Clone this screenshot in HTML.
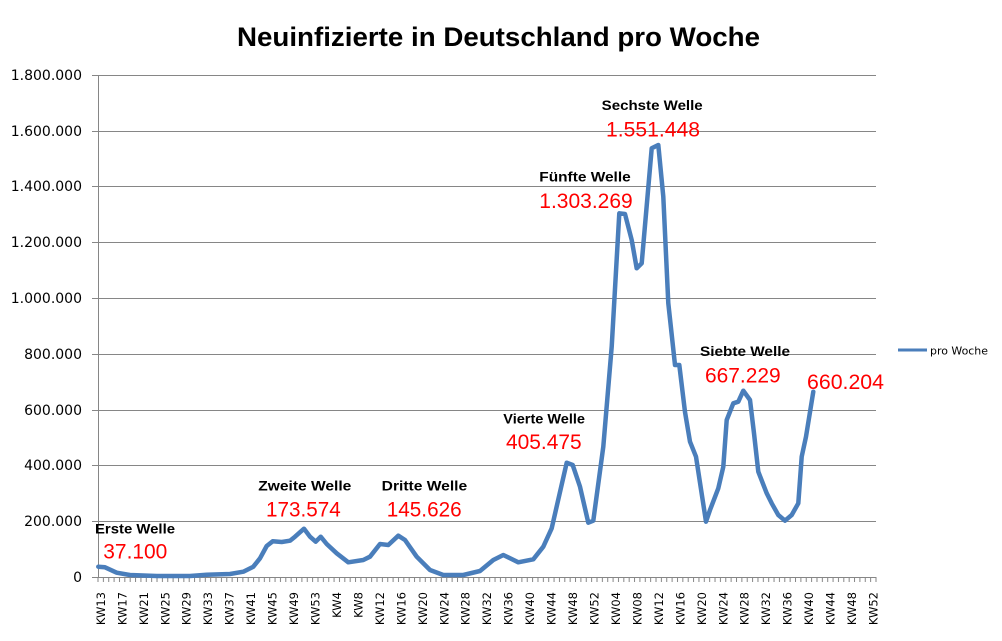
<!DOCTYPE html>
<html>
<head>
<meta charset="utf-8">
<style>
html,body{margin:0;padding:0;background:#fff;}
svg{display:block;}
</style>
</head>
<body>
<svg width="1002" height="641" viewBox="0 0 1002 641" xmlns="http://www.w3.org/2000/svg">
<defs>
<pattern id="tk" patternUnits="userSpaceOnUse" x="97.5" y="577" width="5.36552" height="6">
<rect x="0" y="0" width="1" height="6" fill="#868686"/>
</pattern>
</defs>
<rect width="1002" height="641" fill="#fff"/>
<!-- title -->
<text x="237" y="46" font-family="Liberation Sans, sans-serif" font-weight="bold" font-size="27" textLength="523" lengthAdjust="spacingAndGlyphs" fill="#000">Neuinfizierte in Deutschland pro Woche</text>

<!-- gridlines -->
<g stroke="#868686" stroke-width="1" shape-rendering="crispEdges">
<line x1="92" y1="75.5" x2="876" y2="75.5"/>
<line x1="92" y1="131.5" x2="876" y2="131.5"/>
<line x1="92" y1="186.5" x2="876" y2="186.5"/>
<line x1="92" y1="242.5" x2="876" y2="242.5"/>
<line x1="92" y1="298.5" x2="876" y2="298.5"/>
<line x1="92" y1="354.5" x2="876" y2="354.5"/>
<line x1="92" y1="410.5" x2="876" y2="410.5"/>
<line x1="92" y1="465.5" x2="876" y2="465.5"/>
<line x1="92" y1="521.5" x2="876" y2="521.5"/>
<line x1="92" y1="577.5" x2="876" y2="577.5"/>
<line x1="98.5" y1="75" x2="98.5" y2="578"/>
</g>

<!-- x ticks -->
<rect x="97.5" y="577" width="780" height="5" fill="url(#tk)"/>

<!-- y labels -->
<g font-family="DejaVu Sans, sans-serif" font-size="14" fill="#000" text-anchor="end">
<text x="82" y="80">1.800.000</text>
<text x="82" y="136">1.600.000</text>
<text x="82" y="191">1.400.000</text>
<text x="82" y="247">1.200.000</text>
<text x="82" y="303">1.000.000</text>
<text x="82" y="359">800.000</text>
<text x="82" y="415">600.000</text>
<text x="82" y="470">400.000</text>
<text x="82" y="526">200.000</text>
<text x="82" y="582">0</text>
</g>

<!-- x labels -->
<g font-family="DejaVu Sans, sans-serif" font-size="11.5" fill="#000" text-anchor="end">
<text transform="translate(104.88,592) rotate(-90)">KW13</text>
<text transform="translate(126.34,592) rotate(-90)">KW17</text>
<text transform="translate(147.81,592) rotate(-90)">KW21</text>
<text transform="translate(169.27,592) rotate(-90)">KW25</text>
<text transform="translate(190.73,592) rotate(-90)">KW29</text>
<text transform="translate(212.19,592) rotate(-90)">KW33</text>
<text transform="translate(233.65,592) rotate(-90)">KW37</text>
<text transform="translate(255.12,592) rotate(-90)">KW41</text>
<text transform="translate(276.58,592) rotate(-90)">KW45</text>
<text transform="translate(298.04,592) rotate(-90)">KW49</text>
<text transform="translate(319.50,592) rotate(-90)">KW53</text>
<text transform="translate(340.96,592) rotate(-90)">KW4</text>
<text transform="translate(362.42,592) rotate(-90)">KW8</text>
<text transform="translate(383.89,592) rotate(-90)">KW12</text>
<text transform="translate(405.35,592) rotate(-90)">KW16</text>
<text transform="translate(426.81,592) rotate(-90)">KW20</text>
<text transform="translate(448.27,592) rotate(-90)">KW24</text>
<text transform="translate(469.73,592) rotate(-90)">KW28</text>
<text transform="translate(491.20,592) rotate(-90)">KW32</text>
<text transform="translate(512.66,592) rotate(-90)">KW36</text>
<text transform="translate(534.12,592) rotate(-90)">KW40</text>
<text transform="translate(555.58,592) rotate(-90)">KW44</text>
<text transform="translate(577.04,592) rotate(-90)">KW48</text>
<text transform="translate(598.50,592) rotate(-90)">KW52</text>
<text transform="translate(619.97,592) rotate(-90)">KW04</text>
<text transform="translate(641.43,592) rotate(-90)">KW08</text>
<text transform="translate(662.89,592) rotate(-90)">KW12</text>
<text transform="translate(684.35,592) rotate(-90)">KW16</text>
<text transform="translate(705.81,592) rotate(-90)">KW20</text>
<text transform="translate(727.28,592) rotate(-90)">KW24</text>
<text transform="translate(748.74,592) rotate(-90)">KW28</text>
<text transform="translate(770.20,592) rotate(-90)">KW32</text>
<text transform="translate(791.66,592) rotate(-90)">KW36</text>
<text transform="translate(813.12,592) rotate(-90)">KW40</text>
<text transform="translate(834.58,592) rotate(-90)">KW44</text>
<text transform="translate(856.05,592) rotate(-90)">KW48</text>
<text transform="translate(877.51,592) rotate(-90)">KW52</text>
</g>

<!-- series -->
<polyline fill="none" stroke="#4a7ebb" stroke-width="4.5" stroke-linejoin="round" stroke-linecap="round"
points="98.3,566.7 105,567.3 116.7,572.7 130,575 156.7,576 190,576 206.7,574.7 230,574 243.3,571.7 253.3,566.7 260,558.3 266.7,546 272.7,541.3 281.7,542 290,540.7 295,536.7 304,528.7 310,536.7 315.7,541.7 320.7,536.7 326.7,544 336.7,553.3 348.3,562.3 363.3,560 370,556.7 380,544 388.3,545 398.3,535.7 405,540 416.7,556.7 430,570 443.3,575 463.3,575 480,571 493.3,560 503.3,555 518.3,562.3 533.3,559.3 543.3,546.7 551.7,528.3 566.7,462.7 572.7,465 580,486.7 588.3,522.7 593.3,520.7 603.3,446.7 611.7,346.7 619.3,213.3 625,214 631.7,240 636.7,268.3 641.7,263.3 651.7,148.3 658.3,145 663.3,196.7 668.3,303.3 675,365 679.3,365 685,412 690,441.7 696,456.7 706,521.7 710,510 718.3,488.3 723.3,466.7 726.7,420 733.3,403.3 738.3,401.7 743.3,390.7 750,400 754,433.3 758.3,471.7 766.7,493.3 771.7,503.3 778.3,515 785,520.7 791.7,515 798.3,503.3 801.7,456.7 806,436.7 813.3,391.7"/>

<!-- annotations bold -->
<g font-family="Liberation Sans, sans-serif" font-weight="bold" font-size="14" fill="#000">
<text x="95" y="533.3" textLength="80" lengthAdjust="spacingAndGlyphs">Erste Welle</text>
<text x="258.3" y="490.7" textLength="93" lengthAdjust="spacingAndGlyphs">Zweite Welle</text>
<text x="381.7" y="490.7" textLength="85.5" lengthAdjust="spacingAndGlyphs">Dritte Welle</text>
<text x="503.3" y="423.3" textLength="81.7" lengthAdjust="spacingAndGlyphs">Vierte Welle</text>
<text x="539.3" y="181.7" textLength="91.4" lengthAdjust="spacingAndGlyphs">Fünfte Welle</text>
<text x="601.7" y="110" textLength="101" lengthAdjust="spacingAndGlyphs">Sechste Welle</text>
<text x="700" y="356" textLength="90" lengthAdjust="spacingAndGlyphs">Siebte Welle</text>
</g>
<!-- annotations red -->
<g font-family="Liberation Sans, sans-serif" font-size="21" fill="#ff0000">
<text x="103.3" y="558.3" textLength="64" lengthAdjust="spacingAndGlyphs">37.100</text>
<text x="266" y="516.7" textLength="74.7" lengthAdjust="spacingAndGlyphs">173.574</text>
<text x="386.7" y="516.7" textLength="75" lengthAdjust="spacingAndGlyphs">145.626</text>
<text x="506" y="449" textLength="75.7" lengthAdjust="spacingAndGlyphs">405.475</text>
<text x="539.3" y="208" textLength="93.4" lengthAdjust="spacingAndGlyphs">1.303.269</text>
<text x="606" y="136.7" textLength="94" lengthAdjust="spacingAndGlyphs">1.551.448</text>
<text x="705" y="382.7" textLength="75.7" lengthAdjust="spacingAndGlyphs">667.229</text>
<text x="807" y="389" textLength="77" lengthAdjust="spacingAndGlyphs">660.204</text>
</g>

<!-- legend -->
<line x1="898" y1="350" x2="927" y2="350" stroke="#4a7ebb" stroke-width="3"/>
<text x="930" y="354.5" font-family="DejaVu Sans, sans-serif" font-size="11" fill="#000" textLength="58" lengthAdjust="spacingAndGlyphs">pro Woche</text>
</svg>
</body>
</html>
